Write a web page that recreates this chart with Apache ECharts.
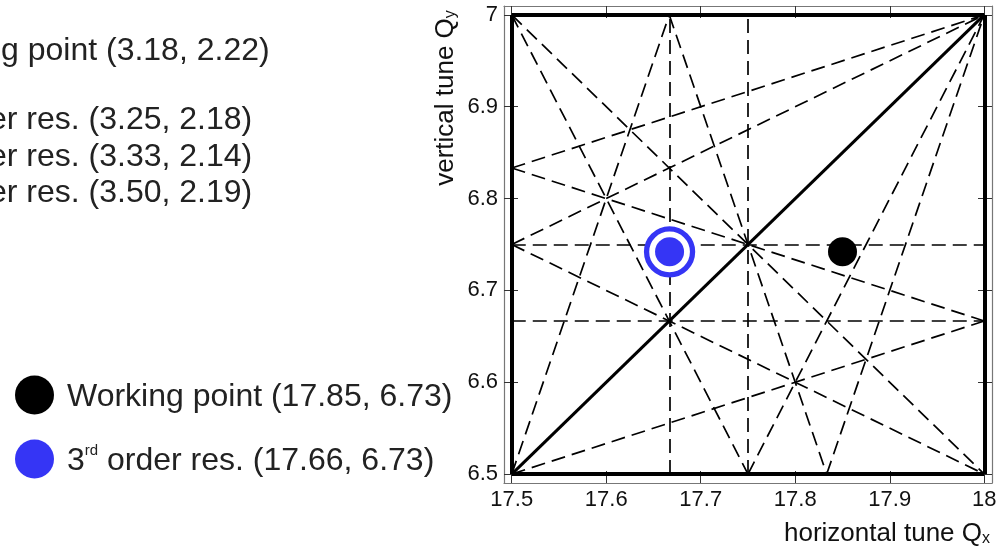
<!DOCTYPE html>
<html><head><meta charset="utf-8">
<script src="https://cdn.jsdelivr.net/npm/echarts@6/dist/echarts.min.js"></script>
<style>html,body{margin:0;padding:0;background:#fff}#c{width:1003px;height:550px}</style>
</head><body><div id="c"></div>
<script>
// ---- data ----
const xTicks = [17.5, 17.6, 17.7, 17.8, 17.9, 18];
const yTicks = [6.5, 6.6, 6.7, 6.8, 6.9, 7];
const xRange = [17.5, 18];
const yRange = [6.5, 7];
// 1st / 2nd order resonances (solid)
const borderLines = [
  [[17.5, 6.5], [17.5, 7]],
  [[18, 6.5], [18, 7]],
  [[17.5, 6.5], [18, 6.5]],
  [[17.5, 7], [18, 7]]
];
const couplingLine = [[[17.5, 6.5], [18, 7]]];
// 3rd / 4th order resonances (dashed)
const dashedLines = [
  [[17.6667, 6.5], [17.6667, 7]],
  [[17.5, 6.6667], [18, 6.6667]],
  [[17.5, 7], [17.75, 6.5]],
  [[17.75, 6.5], [18, 7]],
  [[17.5, 6.75], [18, 6.5]],
  [[17.5, 6.75], [18, 7]],
  [[17.75, 6.5], [17.75, 7]],
  [[17.5, 6.75], [18, 6.75]],
  [[17.5, 7], [18, 6.5]],
  [[17.6667, 7], [17.8333, 6.5]],
  [[17.5, 6.5], [17.6667, 7]],
  [[17.8333, 6.5], [18, 7]],
  [[17.5, 6.8333], [18, 6.6667]],
  [[17.5, 6.5], [18, 6.6667]],
  [[17.5, 6.8333], [18, 7]]
];
const workingPoint = [[17.85, 6.742]];
const resonancePoint = [[17.667, 6.742]];
const legendNames = ['Working point (17.85, 6.73)', '3rd order res. (17.66, 6.73)'];
const sideNotes = ['g point (3.18, 2.22)', 'er res. (3.25, 2.18)', 'er res. (3.33, 2.14)', 'er res. (3.50, 2.19)'];

// ---- chart ----
const FONT = 'Liberation Sans';
const BLUE = '#3535f5';
const xPad = 0.0082, yPad = 0.0097;
const fmt = v => String(Math.round(v * 10) / 10);

function xAxis(pos, withLabel) {
  return {
    type: 'value', position: pos,
    min: xRange[0] - xPad, max: xRange[1] + xPad,
    axisLine: { show: true, onZero: false, lineStyle: { color: '#777', width: 1.2 } },
    axisTick: { show: true, inside: true, length: 12, customValues: xTicks, lineStyle: { color: '#333', width: 1 } },
    axisLabel: { show: withLabel, customValues: xTicks, margin: 6, fontSize: 22, color: '#111', fontFamily: FONT, formatter: fmt },
    splitLine: { show: false }
  };
}
function yAxis(pos, withLabel) {
  return {
    type: 'value', position: pos,
    min: yRange[0] - yPad, max: yRange[1] + yPad,
    axisLine: { show: true, onZero: false, lineStyle: { color: '#777', width: 1.2 } },
    axisTick: { show: true, inside: true, length: 14, customValues: yTicks, lineStyle: { color: '#333', width: 1 } },
    axisLabel: { show: withLabel, customValues: yTicks, margin: 6, fontSize: 22, color: '#111', fontFamily: FONT, formatter: fmt },
    splitLine: { show: false }
  };
}
const xa = xAxis('bottom', true);
xa.name = '{m|horizontal tune Q}{s|x}';
xa.nameLocation = 'end';
xa.nameGap = -2;
xa.nameTextStyle = {
  align: 'right', verticalAlign: 'top', padding: [38, 0, 0, 0],
  rich: {
    m: { fontSize: 26, fontFamily: FONT, color: '#111', lineHeight: 26 },
    s: { fontSize: 16, fontFamily: FONT, color: '#111', lineHeight: 10, verticalAlign: 'bottom' }
  }
};

const noteStyle = t => ({ text: t, fontSize: 32, fontFamily: FONT, fill: '#222', verticalAlign: 'middle', align: 'left' });

const chart = echarts.init(document.getElementById('c'), null, { renderer: 'canvas' });
chart.setOption({
  animation: false,
  backgroundColor: '#fff',
  grid: { left: 504, right: 11, top: 6, bottom: 67, containLabel: false, outerBoundsMode: 'none' },
  xAxis: [xa, xAxis('top', false)],
  yAxis: [yAxis('left', true), yAxis('right', false)],
  legend: {
    orient: 'vertical', left: 15, top: 375.5, padding: 0,
    itemWidth: 39, itemHeight: 39, itemGap: 25, icon: 'circle',
    selectedMode: false, data: legendNames,
    formatter: n => n.indexOf('3rd') === 0 ? '{m|3}{sup|rd}{m|' + n.slice(3) + '}' : '{m|' + n + '}',
    textStyle: {
      padding: [4, 0, 0, 8],
      rich: {
        m: { fontSize: 32, fontFamily: FONT, color: '#222', lineHeight: 35 },
        sup: { fontSize: 15, fontFamily: FONT, color: '#222', lineHeight: 23, verticalAlign: 'top' }
      }
    }
  },
  graphic: [
    { type: 'text', x: 1, y: 51, style: noteStyle(sideNotes[0]) },
    { type: 'text', x: -11, y: 120, style: noteStyle(sideNotes[1]) },
    { type: 'text', x: -11, y: 157, style: noteStyle(sideNotes[2]) },
    { type: 'text', x: -11, y: 193, style: noteStyle(sideNotes[3]) },
    {
      type: 'text', x: 446, y: 98, rotation: Math.PI / 2,
      style: {
        text: '{m|vertical tune Q}{s|y}', align: 'center', verticalAlign: 'middle',
        rich: {
          m: { fontSize: 26, fontFamily: FONT, fill: '#111', lineHeight: 26 },
          s: { fontSize: 16, fontFamily: FONT, fill: '#111', lineHeight: 10, verticalAlign: 'bottom' }
        }
      }
    }
  ],
  series: [
    {
      type: 'lines', coordinateSystem: 'cartesian2d', silent: true, z: 2,
      data: dashedLines.map(c => ({ coords: c })),
      lineStyle: { color: '#000', width: 1.7, type: [14, 7], opacity: 1, curveness: 0 }
    },
    {
      type: 'lines', coordinateSystem: 'cartesian2d', silent: true, z: 3,
      data: borderLines.map(c => ({ coords: c })),
      lineStyle: { color: '#000', width: 4, type: 'solid', opacity: 1, curveness: 0 }
    },
    {
      type: 'lines', coordinateSystem: 'cartesian2d', silent: true, z: 3,
      data: couplingLine.map(c => ({ coords: c })),
      lineStyle: { color: '#000', width: 3, type: 'solid', opacity: 1, curveness: 0 }
    },
    {
      name: 'ring', type: 'scatter', z: 5, silent: true, data: resonancePoint, symbol: 'circle', symbolSize: 46,
      itemStyle: { color: '#fff', borderColor: BLUE, borderWidth: 5.3, opacity: 1 }
    },
    {
      name: legendNames[0], type: 'scatter', z: 6, silent: true, data: workingPoint, symbol: 'circle', symbolSize: 29,
      itemStyle: { color: '#000', opacity: 1 }
    },
    {
      name: legendNames[1], type: 'scatter', z: 6, silent: true, data: resonancePoint, symbol: 'circle', symbolSize: 29,
      itemStyle: { color: BLUE, opacity: 1 }
    }
  ]
});
</script>
</body></html>
